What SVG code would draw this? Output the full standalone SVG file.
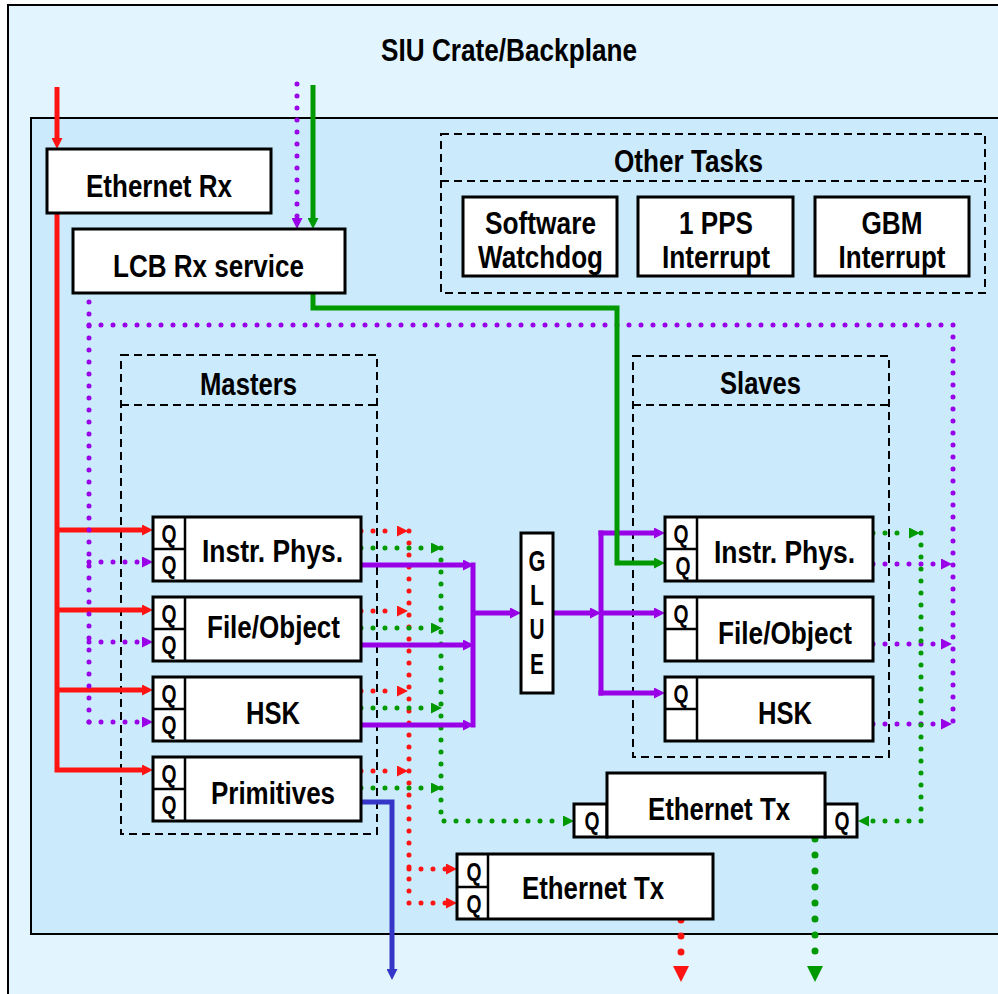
<svg xmlns="http://www.w3.org/2000/svg" width="998" height="994" viewBox="0 0 998 994">
<style>
text{font-family:"Liberation Sans",Arial,sans-serif;font-weight:bold;fill:#000;text-anchor:middle}
.lbl{font-size:31px}
.q{font-size:25px}
.g{font-size:30px}
.node{fill:#fff;stroke:#000;stroke-width:3}
.div{fill:none;stroke:#000;stroke-width:2.5}
.dash{fill:none;stroke:#000;stroke-width:2;stroke-dasharray:8 5}
.c{fill:none;stroke-width:5}
.dot{fill:none;stroke-width:5;stroke-linecap:round;stroke-dasharray:0 12}
.dotL{fill:none;stroke-width:7;stroke-linecap:round;stroke-dasharray:0 16}
.red{stroke:#ff1414}
.grn{stroke:#009a00}
.pur{stroke:#9a00e8}
.blu{stroke:#3535c8}
</style>
<defs>
<marker id="aR" viewBox="0 0 11 11" refX="0" refY="5.5" markerWidth="11" markerHeight="11" markerUnits="userSpaceOnUse" orient="auto"><path d="M0,0L11,5.5L0,11z" fill="#ff1414"/></marker>
<marker id="aG" viewBox="0 0 11 11" refX="0" refY="5.5" markerWidth="11" markerHeight="11" markerUnits="userSpaceOnUse" orient="auto"><path d="M0,0L11,5.5L0,11z" fill="#009a00"/></marker>
<marker id="aP" viewBox="0 0 11 11" refX="0" refY="5.5" markerWidth="11" markerHeight="11" markerUnits="userSpaceOnUse" orient="auto"><path d="M0,0L11,5.5L0,11z" fill="#9a00e8"/></marker>
<marker id="aB" viewBox="0 0 11 11" refX="0" refY="5.5" markerWidth="11" markerHeight="11" markerUnits="userSpaceOnUse" orient="auto"><path d="M0,0L11,5.5L0,11z" fill="#3535c8"/></marker>
<marker id="aRL" viewBox="0 0 16 16" refX="0" refY="8" markerWidth="16" markerHeight="16" markerUnits="userSpaceOnUse" orient="auto"><path d="M0,0L16,8L0,16z" fill="#ff1414"/></marker>
<marker id="aGL" viewBox="0 0 16 16" refX="0" refY="8" markerWidth="16" markerHeight="16" markerUnits="userSpaceOnUse" orient="auto"><path d="M0,0L16,8L0,16z" fill="#009a00"/></marker>
</defs>

<g id="frames">
<rect x="8" y="5" width="1000" height="1000" fill="#e2f4fe" stroke="#000" stroke-width="2"/>
<text x="509" y="61" style="font-size:32px" textLength="256" lengthAdjust="spacingAndGlyphs">SIU Crate/Backplane</text>
<rect x="31" y="118" width="980" height="816" fill="#cbeafc" stroke="#000" stroke-width="2"/>
</g>

<g id="otherTasks">
<rect class="dash" x="441" y="134" width="544" height="159"/>
<line class="dash" x1="441" y1="181" x2="985" y2="181"/>
<text class="lbl" x="688.5" y="172" textLength="149" lengthAdjust="spacingAndGlyphs">Other Tasks</text>
</g>
<g id="mastersGroup">
<rect class="dash" x="121" y="355" width="256" height="479"/>
<line class="dash" x1="121" y1="405" x2="377" y2="405"/>
<text class="lbl" x="248.5" y="395" textLength="97" lengthAdjust="spacingAndGlyphs">Masters</text>
</g>
<g id="slavesGroup">
<rect class="dash" x="633" y="356" width="256" height="401"/>
<line class="dash" x1="633" y1="405" x2="889" y2="405"/>
<text class="lbl" x="760.5" y="394" textLength="81" lengthAdjust="spacingAndGlyphs">Slaves</text>
</g>

<g id="connectors">
<path class="c red" d="M57,87V138" marker-end="url(#aR)"/>
<path class="c red" d="M57,213V770H142" marker-end="url(#aR)"/>
<path class="c red" d="M57,530H142" marker-end="url(#aR)"/>
<path class="c red" d="M57,610H142" marker-end="url(#aR)"/>
<path class="c red" d="M57,690H142" marker-end="url(#aR)"/>
<path class="dot pur" d="M297,84V218" marker-end="url(#aP)"/>
<path class="c grn" d="M313,85V218" marker-end="url(#aG)"/>
<path class="dot pur" d="M89,302V723"/>
<path class="dot pur" d="M89,325H953V725"/>
<path class="dot pur" d="M89,562H142" marker-end="url(#aP)"/>
<path class="dot pur" d="M89,642H142" marker-end="url(#aP)"/>
<path class="dot pur" d="M89,722H142" marker-end="url(#aP)"/>
<path class="dot pur" d="M873,564H941" marker-end="url(#aP)"/>
<path class="dot pur" d="M873,644H941" marker-end="url(#aP)"/>
<path class="dot pur" d="M873,724H941" marker-end="url(#aP)"/>
<path class="dot red" d="M361,531H397" marker-end="url(#aR)"/>
<path class="dot red" d="M361,611H397" marker-end="url(#aR)"/>
<path class="dot red" d="M361,691H397" marker-end="url(#aR)"/>
<path class="dot red" d="M361,771H397" marker-end="url(#aR)"/>
<path class="dot red" d="M409,531V903"/>
<path class="dot red" d="M409,869H446" marker-end="url(#aR)"/>
<path class="dot red" d="M409,903H446" marker-end="url(#aR)"/>
<path class="dot grn" d="M361,548H431" marker-end="url(#aG)"/>
<path class="dot grn" d="M361,628H431" marker-end="url(#aG)"/>
<path class="dot grn" d="M361,708H431" marker-end="url(#aG)"/>
<path class="dot grn" d="M361,788H431" marker-end="url(#aG)"/>
<path class="dot grn" d="M441,548V821H563" marker-end="url(#aG)"/>
<path class="dot grn" d="M873,533H909" marker-end="url(#aG)"/>
<path class="dot grn" d="M921,533V821H869" marker-end="url(#aG)"/>
<path class="c pur" d="M361,565H463" marker-end="url(#aP)"/>
<path class="c pur" d="M361,645H463" marker-end="url(#aP)"/>
<path class="c pur" d="M361,725H463" marker-end="url(#aP)"/>
<path class="c pur" d="M473,562.5V727.5"/>
<path class="c pur" d="M473,613H510" marker-end="url(#aP)"/>
<path class="c pur" d="M553,613H590" marker-end="url(#aP)"/>
<path class="c pur" d="M601,530.5V695.5"/>
<path class="c pur" d="M598.5,533H654" marker-end="url(#aP)"/>
<path class="c pur" d="M601,613H654" marker-end="url(#aP)"/>
<path class="c pur" d="M598.5,693H654" marker-end="url(#aP)"/>
<path class="c grn" d="M313,293V308H617V563H654" marker-end="url(#aG)"/>
<path class="c blu" d="M361,802H392V969" marker-end="url(#aB)"/>
<path class="dotL red" d="M681,920V966" marker-end="url(#aRL)"/>
<path class="dotL grn" d="M815,839V966" marker-end="url(#aGL)"/>
</g>

<g id="ethRx">
<rect class="node" x="47" y="149" width="224" height="64"/>
<text class="lbl" x="159" y="197" textLength="146" lengthAdjust="spacingAndGlyphs">Ethernet Rx</text>
</g>
<g id="lcbRx">
<rect class="node" x="73" y="229" width="272" height="64"/>
<text class="lbl" x="208.5" y="277" textLength="191" lengthAdjust="spacingAndGlyphs">LCB Rx service</text>
</g>

<g id="swWatchdog">
<rect class="node" x="463" y="197" width="154" height="79"/>
<text class="lbl" x="540.5" y="234" textLength="111" lengthAdjust="spacingAndGlyphs">Software</text>
<text class="lbl" x="540.5" y="268" textLength="125" lengthAdjust="spacingAndGlyphs">Watchdog</text>
</g>
<g id="pps">
<rect class="node" x="638" y="197" width="155" height="79"/>
<text class="lbl" x="716" y="234" textLength="74" lengthAdjust="spacingAndGlyphs">1 PPS</text>
<text class="lbl" x="716" y="268" textLength="108" lengthAdjust="spacingAndGlyphs">Interrupt</text>
</g>
<g id="gbm">
<rect class="node" x="815" y="197" width="154" height="79"/>
<text class="lbl" x="892" y="234" textLength="61" lengthAdjust="spacingAndGlyphs">GBM</text>
<text class="lbl" x="892" y="268" textLength="107" lengthAdjust="spacingAndGlyphs">Interrupt</text>
</g>

<g id="mInstr">
<rect class="node" x="153" y="517" width="208" height="64"/>
<path class="div" d="M185,517V581M153,549H185"/>
<text class="q" x="169" y="543" textLength="15" lengthAdjust="spacingAndGlyphs">Q</text>
<text class="q" x="169" y="574" textLength="15" lengthAdjust="spacingAndGlyphs">Q</text>
<text class="lbl" x="272.5" y="562" textLength="141" lengthAdjust="spacingAndGlyphs">Instr. Phys.</text>
</g>
<g id="mFile">
<rect class="node" x="153" y="597" width="208" height="64"/>
<path class="div" d="M185,597V661M153,629H185"/>
<text class="q" x="169" y="623" textLength="15" lengthAdjust="spacingAndGlyphs">Q</text>
<text class="q" x="169" y="654" textLength="15" lengthAdjust="spacingAndGlyphs">Q</text>
<text class="lbl" x="273.5" y="638" textLength="133" lengthAdjust="spacingAndGlyphs">File/Object</text>
</g>
<g id="mHSK">
<rect class="node" x="153" y="677" width="208" height="64"/>
<path class="div" d="M185,677V741M153,709H185"/>
<text class="q" x="169" y="703" textLength="15" lengthAdjust="spacingAndGlyphs">Q</text>
<text class="q" x="169" y="734" textLength="15" lengthAdjust="spacingAndGlyphs">Q</text>
<text class="lbl" x="273" y="724" textLength="54" lengthAdjust="spacingAndGlyphs">HSK</text>
</g>
<g id="mPrim">
<rect class="node" x="153" y="757" width="208" height="64"/>
<path class="div" d="M185,757V821M153,789H185"/>
<text class="q" x="169" y="783" textLength="15" lengthAdjust="spacingAndGlyphs">Q</text>
<text class="q" x="169" y="814" textLength="15" lengthAdjust="spacingAndGlyphs">Q</text>
<text class="lbl" x="273" y="804" textLength="124" lengthAdjust="spacingAndGlyphs">Primitives</text>
</g>

<g id="glue">
<rect class="node" x="521" y="533" width="32" height="160"/>
<text class="g" x="537" y="571" textLength="17" lengthAdjust="spacingAndGlyphs">G</text>
<text class="g" x="537" y="605" textLength="14" lengthAdjust="spacingAndGlyphs">L</text>
<text class="g" x="537" y="639" textLength="15" lengthAdjust="spacingAndGlyphs">U</text>
<text class="g" x="537" y="674" textLength="14" lengthAdjust="spacingAndGlyphs">E</text>
</g>

<g id="sInstr">
<rect class="node" x="665" y="517" width="208" height="64"/>
<path class="div" d="M697,517V581M665,549H697"/>
<text class="q" x="681" y="543" textLength="15" lengthAdjust="spacingAndGlyphs">Q</text>
<text class="q" x="683" y="575" textLength="15" lengthAdjust="spacingAndGlyphs">Q</text>
<text class="lbl" x="784.5" y="563" textLength="141" lengthAdjust="spacingAndGlyphs">Instr. Phys.</text>
</g>
<g id="sFile">
<rect class="node" x="665" y="597" width="208" height="64"/>
<path class="div" d="M697,597V661M665,629H697"/>
<text class="q" x="681" y="623" textLength="15" lengthAdjust="spacingAndGlyphs">Q</text>
<text class="lbl" x="785" y="644" textLength="134" lengthAdjust="spacingAndGlyphs">File/Object</text>
</g>
<g id="sHSK">
<rect class="node" x="665" y="677" width="208" height="64"/>
<path class="div" d="M697,677V741M665,709H697"/>
<text class="q" x="681" y="703" textLength="15" lengthAdjust="spacingAndGlyphs">Q</text>
<text class="lbl" x="785" y="724" textLength="54" lengthAdjust="spacingAndGlyphs">HSK</text>
</g>

<g id="ethTx1">
<rect class="node" x="574" y="804" width="33" height="33"/>
<rect class="node" x="825" y="804" width="32" height="33"/>
<rect class="node" x="607" y="773" width="218" height="64"/>
<text class="q" x="592" y="830" textLength="15" lengthAdjust="spacingAndGlyphs">Q</text>
<text class="q" x="842" y="830" textLength="15" lengthAdjust="spacingAndGlyphs">Q</text>
<text class="lbl" x="719" y="820" textLength="142" lengthAdjust="spacingAndGlyphs">Ethernet Tx</text>
</g>
<g id="ethTx2">
<rect class="node" x="457" y="854" width="256" height="65"/>
<path class="div" d="M488,854V919M457,887H488"/>
<text class="q" x="474" y="881" textLength="15" lengthAdjust="spacingAndGlyphs">Q</text>
<text class="q" x="474" y="913" textLength="15" lengthAdjust="spacingAndGlyphs">Q</text>
<text class="lbl" x="593" y="899" textLength="142" lengthAdjust="spacingAndGlyphs">Ethernet Tx</text>
</g>
</svg>
